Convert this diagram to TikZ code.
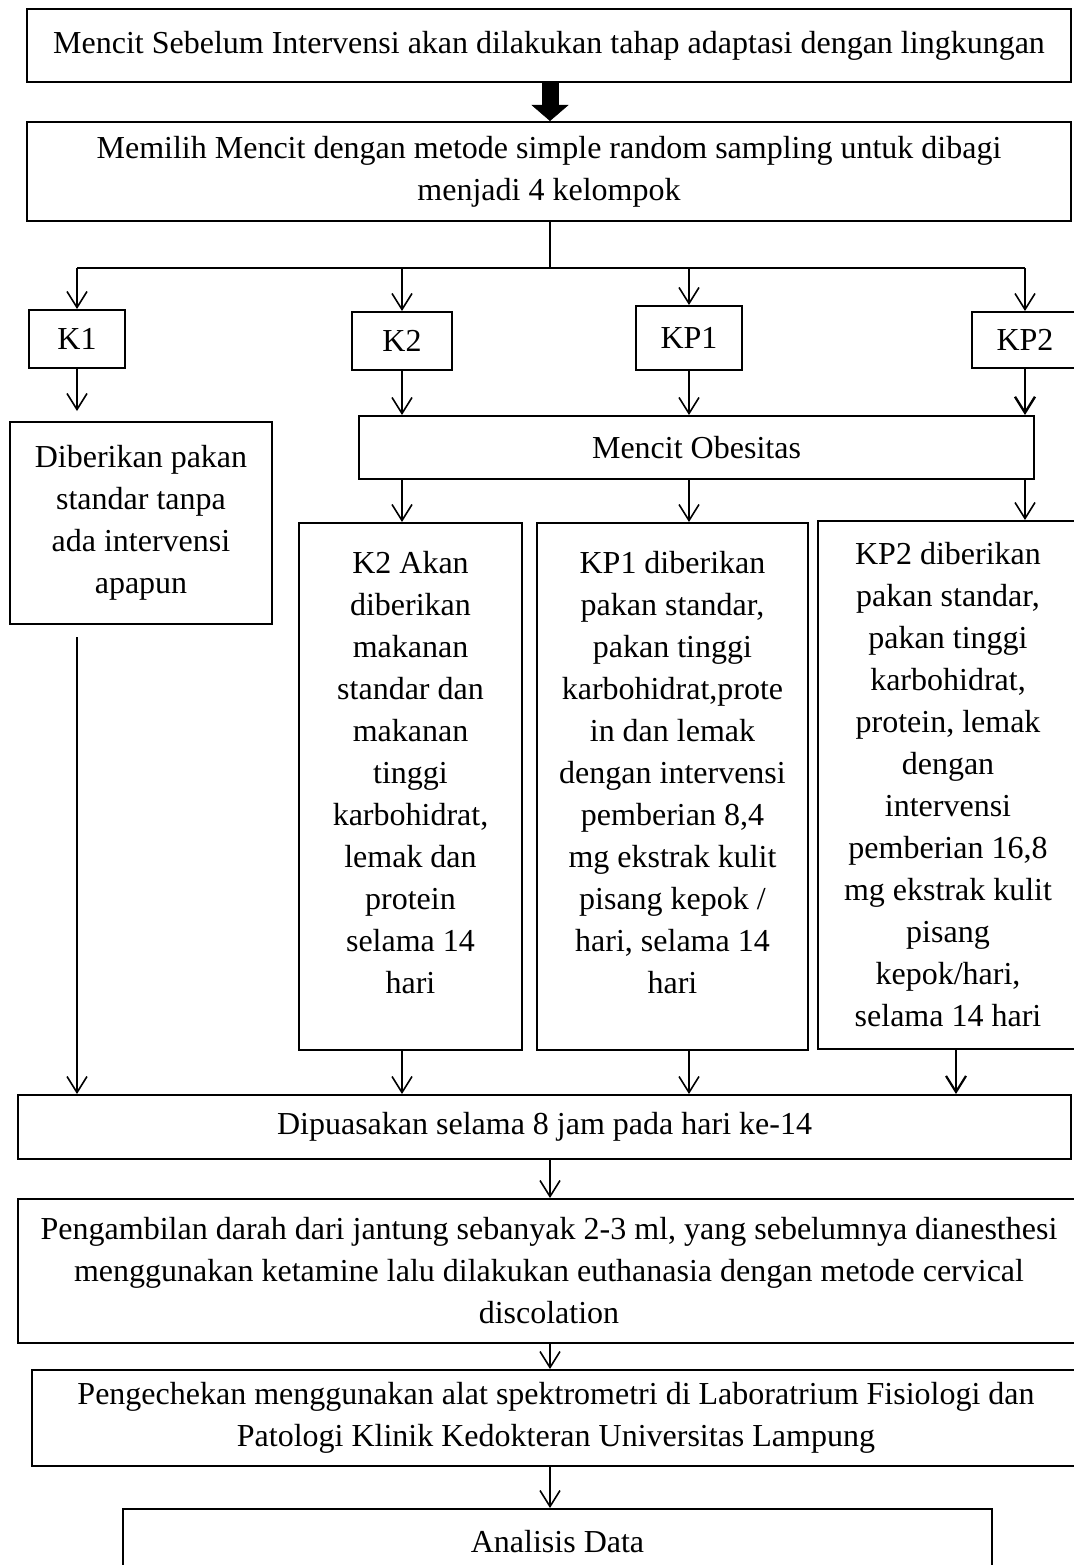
\documentclass[tikz,border=0pt]{standalone}
\usepackage{fontspec}
\setmainfont{Liberation Serif}
\usetikzlibrary{arrows.meta,calc}
\begin{document}
\begin{tikzpicture}[x=1pt,y=-1pt,
  font=\fontsize{32}{42}\selectfont,
  box/.style={draw, line width=2pt, rectangle, inner sep=0pt, align=center},
  txt/.style={inner sep=0pt, align=center},
  arr/.style={line width=1.6pt, -{Straight Barb[length=16pt,width=20pt]}},
  bigarr/.style={line width=17pt, -{Triangle[width=37pt,length=16pt,line width=0.5pt]}},
  link/.style={line width=1.6pt}]
\fill[white] (0,0) rectangle (1073,1565);
\useasboundingbox (0,0) rectangle (1073,1565);

\coordinate (mx) at (550,0);
\coordinate (cx) at (956,0);
\coordinate (br) at (550,268);

% top boxes
\node[box, minimum width=1044pt, minimum height=73pt] (b1) at (549,45.5)
  {Mencit Sebelum Intervensi akan dilakukan tahap adaptasi dengan lingkungan};
\node[box, minimum width=1044pt, minimum height=99pt] (b2) at (549,171.5)
  {Memilih Mencit dengan metode simple random sampling untuk dibagi\\menjadi 4 kelompok};

% group boxes
\node[box, minimum width=96pt, minimum height=58pt] (k1) at (77,339) {K1};
\node[box, minimum width=100pt, minimum height=58pt] (k2) at (402,341) {K2};
\node[box, minimum width=106pt, minimum height=64pt] (kp1) at (689,338) {KP1};
\node[box, minimum width=106pt, minimum height=56pt] (kp2) at (1025,340) {KP2};

% second level
\node[box, minimum width=262pt, minimum height=202pt] (dib) at (141,523)
  {Diberikan pakan\\standar tanpa\\ada intervensi\\apapun};
\node[box, minimum width=675pt, minimum height=63pt] (obes) at (696.5,447.5) {Mencit Obesitas};

% treatment boxes
\node[box, minimum width=223pt, minimum height=527pt] (k2a) at (410.5,786.5) {};
\node[txt] (k2at) at (410.5,772.5)
  {K2 Akan\\diberikan\\makanan\\standar dan\\makanan\\tinggi\\karbohidrat,\\lemak dan\\protein\\selama 14\\hari};
\node[box, minimum width=271pt, minimum height=527pt] (kp1a) at (672.5,786.5) {};
\node[txt] (kp1at) at (672.5,772.5)
  {KP1 diberikan\\pakan standar,\\pakan tinggi\\karbohidrat,prote\\in dan lemak\\dengan intervensi\\pemberian 8,4\\mg ekstrak kulit\\pisang kepok /\\hari, selama 14\\hari};
\node[box, minimum width=260pt, minimum height=528pt] (kp2a) at (948,785)
  {KP2 diberikan\\pakan standar,\\pakan tinggi\\karbohidrat,\\protein, lemak\\dengan\\intervensi\\pemberian 16,8\\mg ekstrak kulit\\pisang\\kepok/hari,\\selama 14 hari};

% lower boxes
\node[box, minimum width=1053pt, minimum height=64pt] (dip) at (544.5,1127)
  {Dipuasakan selama 8 jam pada hari ke-14};
\node[box, minimum width=1062pt, minimum height=144pt] (amb) at (549,1271)
  {Pengambilan darah dari jantung sebanyak 2-3 ml, yang sebelumnya dianesthesi\\menggunakan ketamine lalu dilakukan euthanasia dengan metode cervical\\discolation};
\node[box, minimum width=1048pt, minimum height=96pt] (cek) at (556,1418)
  {Pengechekan menggunakan alat spektrometri di Laboratrium Fisiologi dan\\Patologi Klinik Kedokteran Universitas Lampung};
\node[box, minimum width=869pt, minimum height=66pt] (ana) at (557.5,1542) {Analisis Data};

% connectors
\draw[bigarr] (b1.south -| mx) -- (b2.north -| mx);
\draw[link] (b2.south -| mx) -- (br);
\draw[link] (k1 |- br) -- (kp2 |- br);
\draw[arr] (k1 |- br) -- (k1.north);
\draw[arr] (k2 |- br) -- (k2.north);
\draw[arr] (kp1 |- br) -- (kp1.north);
\draw[arr] (kp2 |- br) -- (kp2.north);

\draw[arr, shorten >=10pt] (k1.south) -- (k1.south |- dib.north);
\draw[arr] (k2.south) -- (k2.south |- obes.north);
\draw[arr] (kp1.south) -- (kp1.south |- obes.north);
\draw[arr, line width=2.4pt] (kp2.south) -- (kp2.south |- obes.north);

\draw[arr] (obes.south -| k2) -- (k2a.north -| k2);
\draw[arr] (obes.south -| kp1) -- (kp1a.north -| kp1);
\draw[arr] (obes.south -| kp2) -- (kp2a.north -| kp2);

\draw[arr, shorten <=12pt] (dib.south -| k1) -- (dip.north -| k1);
\draw[arr] (k2a.south -| k2) -- (dip.north -| k2);
\draw[arr] (kp1a.south -| kp1) -- (dip.north -| kp1);
\draw[arr, line width=2.2pt] (kp2a.south -| cx) -- (dip.north -| cx);

\draw[arr] (dip.south -| mx) -- (amb.north -| mx);
\draw[arr] (amb.south -| mx) -- (cek.north -| mx);
\draw[arr] (cek.south -| mx) -- (ana.north -| mx);
\end{tikzpicture}
\end{document}
